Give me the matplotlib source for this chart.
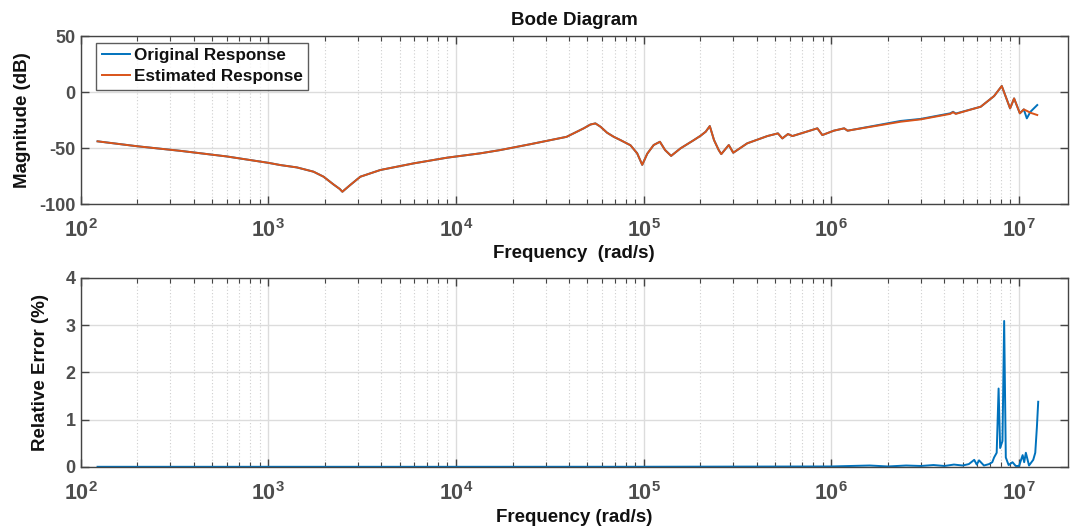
import matplotlib
matplotlib.use("Agg")
import matplotlib.pyplot as plt
from matplotlib.ticker import FixedLocator, FixedFormatter, LogLocator, NullFormatter

plt.rcParams['font.family'] = ['Liberation Sans', 'DejaVu Sans']
plt.rcParams['font.weight'] = 'bold'
plt.rcParams['axes.unicode_minus'] = False
plt.rcParams['mathtext.fontset'] = 'custom'
plt.rcParams['mathtext.rm'] = 'Liberation Sans:bold'
plt.rcParams['mathtext.bf'] = 'Liberation Sans:bold'
plt.rcParams['mathtext.it'] = 'Liberation Sans:bold'

# ---- data ----
w_mag = [123, 200, 340, 600, 1000, 1160, 1420, 1740, 1970, 2220, 2400, 2480, 2560,
         2730, 3090, 3950, 5940, 8960, 1.35e4, 1.72e4, 2.5e4, 3.88e4, 4.79e4, 5.2e4,
         5.53e4, 5.89e4, 6.38e4, 6.93e4, 7.52e4, 8.5e4, 9.23e4, 9.82e4, 1.045e5,
         1.13e5, 1.22e5, 1.30e5, 1.40e5, 1.57e5, 1.85e5, 2.01e5, 2.14e5, 2.25e5,
         2.37e5, 2.51e5, 2.59e5, 2.84e5, 3.0e5, 3.56e5, 4.56e5, 5.19e5, 5.48e5,
         5.87e5, 6.2e5, 8.42e5, 8.95e5, 1.03e6, 1.17e6, 1.22e6, 2.34e6, 2.99e6,
         4.3e6, 4.45e6, 4.6e6, 6.25e6, 7.36e6, 8.09e6, 8.96e6, 9.41e6, 1.01e7,
         1.06e7, 1.10e7, 1.15e7, 1.25e7]
mag_est = [-44.0, -48.4, -52.5, -57.5, -63.2, -65.2, -67.3, -71.1, -75.6, -82.4,
           -86.5, -89.0, -87.0, -83.0, -75.6, -69.6, -63.7, -58.6, -54.7, -51.8,
           -46.5, -40.0, -32.4, -29.0, -28.0, -31.0, -36.3, -40.0, -42.9, -47.5,
           -54.7, -65.0, -55.0, -47.3, -44.4, -51.8, -57.0, -50.3, -42.9, -39.0,
           -35.4, -30.4, -42.9, -51.8, -55.4, -47.3, -54.2, -45.8, -39.3, -36.9,
           -41.4, -37.5, -39.3, -32.4, -38.4, -34.5, -32.4, -34.5, -26.5, -24.4,
           -19.5, -18.0, -19.5, -13.1, -3.6, 5.4, -14.6, -5.7, -19.0, -15.5,
           -16.8, -18.5, -20.5]
mag_orig = [-44.0, -48.4, -52.5, -57.5, -63.2, -65.2, -67.3, -71.1, -75.6, -82.4,
            -86.5, -89.0, -87.0, -83.0, -75.6, -69.6, -63.7, -58.6, -54.7, -51.8,
            -46.5, -40.0, -32.4, -29.0, -28.0, -31.0, -36.3, -40.0, -42.9, -47.5,
            -54.7, -65.0, -55.0, -47.3, -44.4, -51.8, -57.0, -50.3, -42.9, -39.0,
            -35.4, -30.4, -42.9, -51.8, -55.4, -47.3, -54.2, -45.8, -39.3, -36.9,
            -41.4, -37.5, -39.3, -32.4, -38.4, -34.5, -32.4, -34.5, -25.8, -24.0,
            -19.0, -17.6, -19.2, -13.1, -3.6, 5.4, -14.6, -5.7, -19.0, -15.5,
            -23.5, -17.6, -11.6]

w_err = [123, 1.0e3, 1.0e4, 1.0e5, 1.0e6, 1.6e6, 2.0e6, 2.5e6, 3.0e6, 3.5e6, 4.0e6,
         4.5e6, 5.0e6, 5.4e6, 5.77e6, 5.95e6, 6.12e6, 6.5e6, 6.92e6, 7.2e6, 7.36e6,
         7.6e6, 7.78e6, 7.93e6, 8.16e6, 8.33e6, 8.5e6, 8.8e6, 9.23e6, 9.6e6, 1.0e7,
         1.045e7, 1.065e7, 1.087e7, 1.13e7, 1.19e7, 1.22e7, 1.245e7, 1.265e7]
err = [0.003, 0.003, 0.003, 0.004, 0.01, 0.03, 0.01, 0.03, 0.02, 0.04, 0.02,
       0.05, 0.03, 0.06, 0.15, 0.05, 0.14, 0.03, 0.06, 0.1, 0.2,
       0.3, 1.66, 0.4, 0.55, 3.09, 0.2, 0.04, 0.1, 0.02, 0.02,
       0.25, 0.1, 0.3, 0.03, 0.15, 0.3, 0.85, 1.38]

c_blue = '#0072BD'
c_orange = '#D95319'
tick_col = '#4d4d4d'
spine_col = '#444444'

fig = plt.figure(figsize=(10.7, 5.3), dpi=100)
ax1 = fig.add_axes([0.0754, 0.615, 0.9226, 0.317])
ax2 = fig.add_axes([0.0754, 0.119, 0.9226, 0.3565])

ax1.plot(w_mag, mag_orig, color=c_blue, lw=1.4, label='Original Response')
ax1.plot(w_mag, mag_est, color=c_orange, lw=1.4, label='Estimated Response')
ax2.plot(w_err, err, color=c_blue, lw=1.4)

xt = [1e2, 1e3, 1e4, 1e5, 1e6, 1e7]
xtl = ['$10^{%d}$' % i for i in range(2, 8)]
for ax in (ax1, ax2):
    ax.set_xscale('log')
    ax.set_xlim(1e2, 1.82e7)
    ax.xaxis.set_major_locator(FixedLocator(xt))
    ax.xaxis.set_major_formatter(FixedFormatter(xtl))
    ax.xaxis.set_minor_locator(LogLocator(base=10, subs=range(2, 10), numticks=20))
    ax.xaxis.set_minor_formatter(NullFormatter())
    ax.grid(True, which='major', color='#dcdcdc', lw=1.0, ls='-')
    ax.grid(True, which='minor', axis='x', color='#cfcfcf', lw=0.8, ls=(0, (1, 2)))
    ax.set_axisbelow(True)
    ax.tick_params(which='both', direction='in', top=True, right=True,
                   colors=spine_col, labelcolor=tick_col)
    ax.tick_params(axis='y', labelsize=13)
    ax.tick_params(axis='x', labelsize=15.5, pad=11)
    ax.tick_params(which='major', length=6, width=1.0)
    ax.tick_params(which='minor', length=3.5, width=0.8)
    for s in ax.spines.values():
        s.set_color(spine_col)
        s.set_linewidth(1.0)
    for lab in ax.get_xticklabels() + ax.get_yticklabels():
        lab.set_fontweight('bold')

ax1.set_ylim(-100, 50)
ax1.set_yticks([-100, -50, 0, 50])
ax2.set_ylim(0, 4)
ax2.set_yticks([0, 1, 2, 3, 4])

ax1.set_title('Bode Diagram', fontsize=13.5, fontweight='bold', color='#111111', pad=8)
ax1.set_xlabel('Frequency  (rad/s)', fontsize=13.5, fontweight='bold', color='#111111', labelpad=2)
ax1.set_ylabel('Magnitude (dB)', fontsize=13.5, fontweight='bold', color='#111111', labelpad=6)
ax2.set_xlabel('Frequency (rad/s)', fontsize=13.5, fontweight='bold', color='#111111', labelpad=3)
ax2.set_ylabel('Relative Error (%)', fontsize=13.5, fontweight='bold', color='#111111', labelpad=12)

leg = ax1.legend(loc='upper left', bbox_to_anchor=(0.016, 0.96), fontsize=12.3, frameon=True,
                 fancybox=False, borderpad=0.3, labelspacing=0.38, handlelength=1.65,
                 handletextpad=0.25, borderaxespad=0.0)
leg.get_frame().set_edgecolor('#333333')
leg.get_frame().set_linewidth(1.0)
for t in leg.get_texts():
    t.set_fontweight('bold')
    t.set_color('#111111')

fig.savefig('out.png', dpi=100)
